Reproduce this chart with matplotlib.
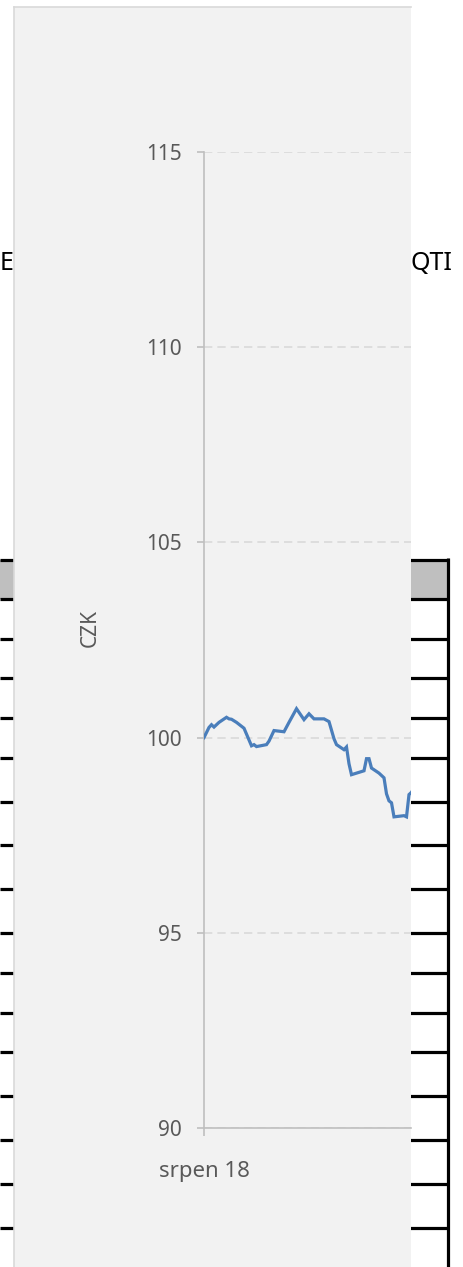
import matplotlib
matplotlib.use("Agg")
import matplotlib.pyplot as plt
import matplotlib.dates as mdates
from matplotlib.patches import Rectangle
import pandas as pd

plt.rcParams["font.family"] = ["Noto Sans", "DejaVu Sans"]

# data: day offsets from 1 Aug 2018 and index value (CZK)
START = pd.Timestamp("2018-08-01")
days = [0, 2, 3, 4, 6, 9, 10, 11, 13, 16, 19, 20, 21, 25, 26, 28, 32, 34,
        37, 40, 42, 44, 48, 50, 52, 53, 56, 57, 58, 59, 64, 65, 66, 67, 70,
        72, 73, 74, 75, 76, 80, 81, 82, 83, 84]
values = [100.0, 100.26, 100.33, 100.27, 100.39, 100.52, 100.48, 100.47,
          100.39, 100.24, 99.79, 99.82, 99.77, 99.82, 99.91, 100.18, 100.15,
          100.39, 100.74, 100.46, 100.61, 100.48, 100.48, 100.41, 99.97,
          99.82, 99.69, 99.76, 99.33, 99.05, 99.15, 99.46, 99.46, 99.22,
          99.09, 98.97, 98.56, 98.38, 98.33, 97.97, 98.0, 97.97, 98.54,
          98.6, 98.7]
y_ticks = [90, 95, 100, 105, 110, 115]
x_label = "srpen 18"
y_title = "CZK"

dates = [START + pd.Timedelta(days=d) for d in days]

W, H = 464, 1267
fig = plt.figure(figsize=(W / 100, H / 100), dpi=100)
fig.patch.set_facecolor("white")

# background layer in pixel coordinates
bg = fig.add_axes([0, 0, 1, 1])
bg.set_xlim(0, W)
bg.set_ylim(H, 0)
bg.axis("off")

# text lying under the chart panel
bg.text(0, 263, "E", fontsize=18, va="center", ha="left", color="black", zorder=1)
bg.text(411, 263, "QTI", fontsize=18, va="center", ha="left", color="black", zorder=1)

# table behind the chart
rows = [560, 599, 639, 678, 718, 758, 802, 845, 889, 933, 973, 1013,
        1052, 1096, 1140, 1184, 1228]
bg.add_patch(Rectangle((0, 560), 447, 39, facecolor="#bfbfbf", edgecolor="none", zorder=1))
for r in rows:
    bg.plot([0, 449], [r, r], color="black", lw=2.3, solid_capstyle="butt", zorder=2)
bg.plot([448, 448], [558, H], color="black", lw=2.3, solid_capstyle="butt", zorder=2)

# chart panel (clipped at right)
bg.add_patch(Rectangle((14, 6.5), 411 - 14, H, facecolor="#f2f2f2",
                       edgecolor="none", zorder=3))
bg.plot([14, 14], [6.5, H], color="#d9d9d9", lw=1.2, zorder=4)
bg.plot([14, 411], [6.5, 6.5], color="#d9d9d9", lw=1.2, zorder=4)

bg.text(90, 628, y_title, rotation=90, fontsize=15, color="#595959",
        ha="center", va="center", zorder=5)

# chart axes
left, right, top, bottom = 204, 411, 152, 1128
ax = fig.add_axes([left / W, (H - bottom) / H, (right - left) / W, (bottom - top) / H])
ax.patch.set_alpha(0)
ax.plot(dates, values, color="#4a7ebb", lw=2.3, zorder=3, solid_joinstyle="miter")

ax.set_ylim(90, 115)
ax.set_yticks(y_ticks)
ax.set_xlim(START, START + pd.Timedelta(days=(right - left) / 2.5))
ax.set_xticks([START])
ax.xaxis.set_major_formatter(mdates.DateFormatter("srpen %y"))

for s in ["top", "right"]:
    ax.spines[s].set_visible(False)
for s in ["left", "bottom"]:
    ax.spines[s].set_color("#bfbfbf")
    ax.spines[s].set_linewidth(1.2)
ax.yaxis.grid(True, color="#d9d9d9", lw=1.2, dashes=(5, 3))
ax.set_axisbelow(True)
ax.tick_params(axis="y", colors="#bfbfbf", labelcolor="#595959", labelsize=15,
               length=5, width=1.2, pad=11)
ax.tick_params(axis="x", colors="#bfbfbf", labelcolor="#595959", labelsize=16,
               length=6, width=1.2, pad=18)

fig.savefig("out.png", dpi=100, facecolor="white")
